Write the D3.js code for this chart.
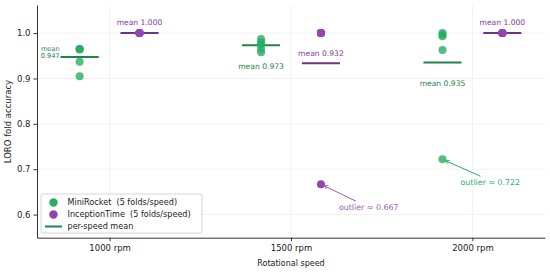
<!DOCTYPE html>
<html>
<head>
<meta charset="utf-8">
<script src="https://cdn.jsdelivr.net/npm/d3@7"></script>
<style>
  body { margin: 0; background: #fff; }
  svg { font-family: "DejaVu Sans", sans-serif; }
</style>
</head>
<body>
<div id="chart"></div>
<script>
// chart data
const speeds = ['1000 rpm', '1500 rpm', '2000 rpm'];
const yTicks = [0.6, 0.7, 0.8, 0.9, 1.0];
const miniRocket = [
    [0.965, 0.965, 0.964, 0.937, 0.905],
    [0.987, 0.980, 0.975, 0.965, 0.958],
    [1.000, 0.997, 0.993, 0.963, 0.722]
];
const inceptionTime = [
    [1.000, 1.000, 1.000, 1.000, 1.000],
    [1.000, 1.000, 1.000, 1.000, 0.667],
    [1.000, 1.000, 1.000, 1.000, 1.000]
];
// mean values as printed on the chart
const mrMeanLabels = ['0.947', '0.973', '0.935'];
const itMeanLabels = ['1.000', '0.932', '1.000'];
const outliers = [
    {model: 'InceptionTime', speed: 1, value: 0.667, text: 'outlier ≈ 0.667'},
    {model: 'MiniRocket', speed: 2, value: 0.722, text: 'outlier ≈ 0.722'}
];

const width = 550, height = 272;
const green = '#27ae60', greenDark = '#1e8449';
const purple = '#8e44ad', purpleDark = '#6c3483';

const svg = d3.select('#chart').append('svg')
    .attr('width', width).attr('height', height);

const x = d3.scaleLinear().domain([-0.4, 2.4]).range([37, 545]);
const y = d3.scaleLinear().domain([0.549, 1.062]).range([237.7, 5]);
const offset = 0.165;
const halfW = 0.105;

// grid
svg.append('g').selectAll('line.h').data(yTicks).enter().append('line')
    .attr('x1', 37).attr('x2', 545)
    .attr('y1', d => y(d)).attr('y2', d => y(d))
    .attr('stroke', '#ececec').attr('stroke-width', 0.7);
svg.append('g').selectAll('line.v').data(speeds).enter().append('line')
    .attr('x1', (d, i) => x(i)).attr('x2', (d, i) => x(i))
    .attr('y1', 5).attr('y2', 237.7)
    .attr('stroke', '#ececec').attr('stroke-width', 0.7);

// axes
const yAxis = svg.append('g').attr('transform', 'translate(37,0)')
    .call(d3.axisLeft(y).tickValues(yTicks).tickFormat(d3.format('.1f'))
        .tickSize(3.5).tickSizeOuter(0).tickPadding(3));
const xAxis = svg.append('g').attr('transform', 'translate(0,237.7)')
    .call(d3.axisBottom(x).tickValues([0, 1, 2]).tickFormat(i => speeds[i])
        .tickSize(3.5).tickSizeOuter(0).tickPadding(3.5));
[yAxis, xAxis].forEach(a => {
    a.select('.domain').attr('stroke', '#333').attr('stroke-width', 1);
    a.selectAll('.tick line').attr('stroke', '#333');
    a.selectAll('.tick text').attr('fill', '#222').style('font-size', '8.5px')
        .style('font-family', '"DejaVu Sans", sans-serif');
});

svg.append('text')
    .attr('transform', `translate(11,${y(0.805)}) rotate(-90)`)
    .attr('text-anchor', 'middle').attr('font-size', 8.5).attr('fill', '#222')
    .text('LORO fold accuracy');
svg.append('text')
    .attr('x', x(1)).attr('y', 266)
    .attr('text-anchor', 'middle').attr('font-size', 8).attr('fill', '#222')
    .text('Rotational speed');

// points and means
function drawModel(data, dx, color, lineColor, opacity) {
    data.forEach((vals, i) => {
        const m = d3.mean(vals);
        svg.append('line')
            .attr('x1', x(i + dx - halfW)).attr('x2', x(i + dx + halfW))
            .attr('y1', y(m)).attr('y2', y(m))
            .attr('stroke', lineColor).attr('stroke-width', 2);
        svg.append('g').selectAll('circle').data(vals).enter().append('circle')
            .attr('cx', x(i + dx)).attr('cy', d => y(d)).attr('r', 4)
            .attr('fill', color).attr('fill-opacity', opacity);
    });
}
drawModel(miniRocket, -offset, green, greenDark, 0.8);
drawModel(inceptionTime, offset, '#9346b3', purpleDark, 1);

// mean labels
const mrMeans = miniRocket.map(v => d3.mean(v));
const itMeans = inceptionTime.map(v => d3.mean(v));

const lab0 = svg.append('text').attr('font-size', 6.6).attr('fill', greenDark)
    .attr('text-anchor', 'end');
lab0.append('tspan').attr('x', x(-offset - halfW) - 1).attr('y', y(mrMeans[0]) - 6.5).text('mean');
lab0.append('tspan').attr('x', x(-offset - halfW) - 1).attr('y', y(mrMeans[0]) + 0.5).text(mrMeanLabels[0]);

svg.append('text').attr('x', x(1 - offset)).attr('y', y(mrMeans[1]) + 24)
    .attr('text-anchor', 'middle').attr('font-size', 7.6).attr('fill', greenDark)
    .text('mean ' + mrMeanLabels[1]);
svg.append('text').attr('x', x(2 - offset)).attr('y', y(mrMeans[2]) + 23)
    .attr('text-anchor', 'middle').attr('font-size', 7.6).attr('fill', greenDark)
    .text('mean ' + mrMeanLabels[2]);

[0, 2].forEach(i => {
    svg.append('text').attr('x', x(i + offset)).attr('y', y(itMeans[i]) - 8)
        .attr('text-anchor', 'middle').attr('font-size', 7.6).attr('fill', '#7d3c98')
        .text('mean ' + itMeanLabels[i]);
});
svg.append('text').attr('x', x(1 + offset)).attr('y', y(itMeans[1]) - 7)
    .attr('text-anchor', 'middle').attr('font-size', 7.6).attr('fill', '#7d3c98')
    .text('mean ' + itMeanLabels[1]);

// outlier annotations
const defs = svg.append('defs');
[['arrG', green], ['arrP', '#9b59b6']].forEach(([id, c]) => {
    defs.append('marker').attr('id', id).attr('viewBox', '0 0 10 10')
        .attr('refX', 9).attr('refY', 5).attr('markerWidth', 5).attr('markerHeight', 5)
        .attr('orient', 'auto')
        .append('path').attr('d', 'M1,1 L9,5 L1,9').attr('fill', 'none')
        .attr('stroke', c).attr('stroke-width', 1.5);
});
outliers.forEach(o => {
    const isIT = o.model === 'InceptionTime';
    const px = x(o.speed + (isIT ? offset : -offset));
    const py = y(o.value);
    const c = isIT ? '#9b59b6' : green;
    svg.append('line')
        .attr('x1', isIT ? px + 35 : px + 38).attr('y1', py + 17)
        .attr('x2', px + 3).attr('y2', py + 1.5)
        .attr('stroke', c).attr('stroke-width', 1)
        .attr('marker-end', `url(#${isIT ? 'arrP' : 'arrG'})`);
    svg.append('text').attr('x', px + 18).attr('y', py + 26)
        .attr('font-size', 7.9).attr('fill', c).text(o.text);
});

// legend
const lg = svg.append('g').attr('transform', 'translate(41,194)');
lg.append('rect').attr('width', 161).attr('height', 39).attr('rx', 2)
    .attr('fill', '#fff').attr('fill-opacity', 0.9).attr('stroke', '#ccc').attr('stroke-width', 0.8);
const items = [
    {label: 'MiniRocket  (5 folds/speed)', type: 'dot', color: green},
    {label: 'InceptionTime  (5 folds/speed)', type: 'dot', color: purple},
    {label: 'per-speed mean', type: 'line', color: greenDark}
];
items.forEach((it, i) => {
    const cy = 8.5 + i * 12;
    if (it.type === 'dot') {
        lg.append('circle').attr('cx', 12.5).attr('cy', cy).attr('r', 4.2).attr('fill', it.color);
    } else {
        lg.append('line').attr('x1', 4).attr('x2', 21).attr('y1', cy).attr('y2', cy)
            .attr('stroke', it.color).attr('stroke-width', 2);
    }
    lg.append('text').attr('x', 26.5).attr('y', cy + 2.9).attr('font-size', 8.1).attr('fill', '#222')
        .style('white-space', 'pre').text(it.label);
});
</script>
</body>
</html>
